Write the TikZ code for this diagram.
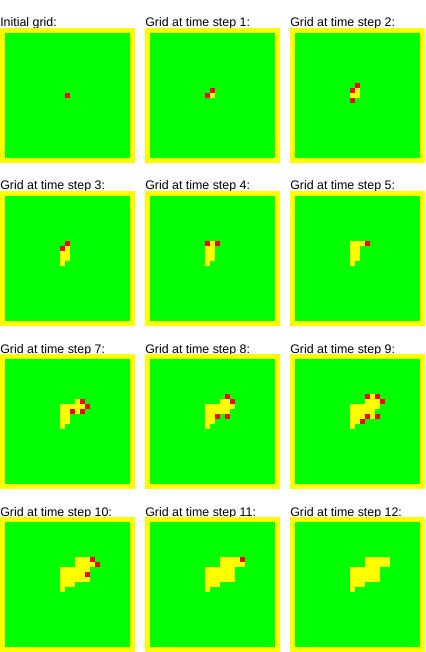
\documentclass[tikz,border=0pt]{standalone}
\usepackage{fontspec}
\setmainfont{Liberation Sans}
\usepackage{xcolor}
\usepackage{tikz}

\definecolor{treegreen}{RGB}{0,255,0}
\definecolor{burntyellow}{RGB}{255,255,0}
\definecolor{firered}{RGB}{255,0,0}

\tikzset{
  paneltitle/.style={font=\fontsize{9.3}{11}\selectfont, inner sep=0pt, anchor=base west},
  frame/.style={fill=burntyellow},
  forest/.style={fill=treegreen},
  burnt/.style={fill=burntyellow},
  burning/.style={fill=firered},
}

% one panel: name, x0, y0, title
\newcommand{\gridpanel}[4]{%
  \node[paneltitle] (#1) at (#2,#3-1) {#4};
  \path[frame] (#2,#3) rectangle ++(135,135);
  \path[forest] (#2+5,#3+5) rectangle ++(125,125);
}
% runs of cells: x0, y0, style, list of firstcol/lastcol/row
\newcommand{\cellruns}[4]{%
  \foreach \ca/\cb/\rw in {#4}
    \path[#3] ({#1+5+5*\ca},{#2+5+5*\rw}) rectangle ({#1+10+5*\cb},{#2+10+5*\rw});
}

\begin{document}
\begin{tikzpicture}[x=0.75pt, y=-0.75pt]
\useasboundingbox (0,0) rectangle (425,652);

% row 1
\gridpanel{g0}{0}{28}{Initial grid:}
\cellruns{0}{28}{burning}{12/12/12}

\gridpanel{g1}{145}{28}{Grid at time step 1:}
\cellruns{145}{28}{burnt}{12/12/12}
\cellruns{145}{28}{burning}{12/12/11, 11/11/12}

\gridpanel{g2}{290}{28}{Grid at time step 2:}
\cellruns{290}{28}{burnt}{12/12/11, 11/12/12}
\cellruns{290}{28}{burning}{12/12/10, 11/11/11, 11/11/13}

% row 2
\gridpanel{g3}{0}{191}{Grid at time step 3:}
\cellruns{0}{191}{burnt}{12/12/10, 11/12/11, 11/12/12, 11/11/13}
\cellruns{0}{191}{burning}{12/12/9, 11/11/10}

\gridpanel{g4}{145}{191}{Grid at time step 4:}
\cellruns{145}{191}{burnt}{12/12/9, 11/12/10, 11/12/11, 11/12/12, 11/11/13}
\cellruns{145}{191}{burning}{11/11/9, 13/13/9}

\gridpanel{g5}{290}{191}{Grid at time step 5:}
\cellruns{290}{191}{burnt}{11/13/9, 11/12/10, 11/12/11, 11/12/12, 11/11/13}
\cellruns{290}{191}{burning}{14/14/9}

% row 3
\gridpanel{g7}{0}{354}{Grid at time step 7:}
\cellruns{0}{354}{burnt}{14/14/8, 11/15/9, 11/12/10, 14/14/10, 11/12/11, 11/12/12, 11/11/13}
\cellruns{0}{354}{burning}{15/15/8, 16/16/9, 13/13/10, 15/15/10}

\gridpanel{g8}{145}{354}{Grid at time step 8:}
\cellruns{145}{354}{burnt}{14/15/8, 11/16/9, 11/15/10, 11/12/11, 11/12/12, 11/11/13}
\cellruns{145}{354}{burning}{15/15/7, 16/16/8, 13/13/11, 15/15/11}

\gridpanel{g9}{290}{354}{Grid at time step 9:}
\cellruns{290}{354}{burnt}{15/15/7, 14/16/8, 11/16/9, 11/15/10, 11/13/11, 15/15/11, 11/12/12, 11/11/13}
\cellruns{290}{354}{burning}{14/14/7, 16/16/7, 17/17/8, 14/14/11, 16/16/11, 13/13/12}

% row 4
\gridpanel{g10}{0}{517}{Grid at time step 10:}
\cellruns{0}{517}{burnt}{14/16/7, 14/17/8, 11/16/9, 11/15/10, 11/16/11, 11/13/12, 11/11/13}
\cellruns{0}{517}{burning}{17/17/7, 18/18/8, 16/16/10}

\gridpanel{g11}{145}{517}{Grid at time step 11:}
\cellruns{145}{517}{burnt}{14/17/7, 14/18/8, 11/16/9, 11/16/10, 11/16/11, 11/13/12, 11/11/13}
\cellruns{145}{517}{burning}{18/18/7}

\gridpanel{g12}{290}{517}{Grid at time step 12:}
\cellruns{290}{517}{burnt}{14/18/7, 14/18/8, 11/16/9, 11/16/10, 11/16/11, 11/13/12, 11/11/13}

\end{tikzpicture}
\end{document}
